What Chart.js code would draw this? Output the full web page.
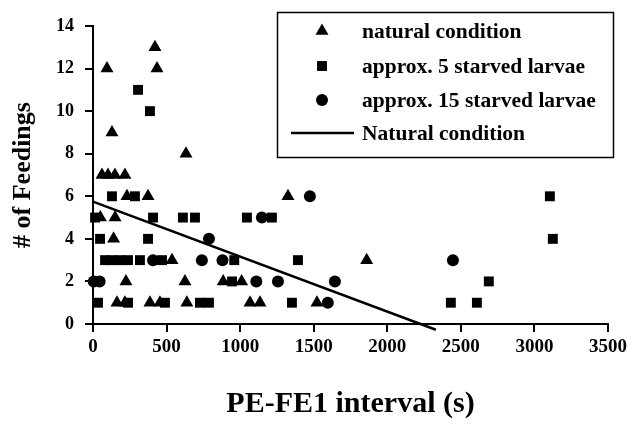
<!DOCTYPE html>
<html>
<head>
<meta charset="utf-8">
<script src="https://cdn.jsdelivr.net/npm/chart.js@4/dist/chart.umd.min.js"></script>
<style>
  html, body { margin: 0; padding: 0; background: #fff; }
  #wrap { width: 627px; height: 425px; }
</style>
</head>
<body>
<div id="wrap"><canvas id="chart" width="627" height="425"></canvas></div>
<script>
// data: [interval (s), # of feedings]
const naturalPts = [
  [95, 12], [421, 13], [435, 12], [129, 9], [632, 8],
  [61, 7], [102, 7], [149, 7], [217, 7],
  [231, 6], [374, 6], [1325, 6],
  [50, 5], [150, 5],
  [140, 4],
  [537, 3], [1860, 3],
  [224, 2], [625, 2], [885, 2], [1010, 2],
  [163, 1], [217, 1], [387, 1], [455, 1], [638, 1], [1067, 1], [1135, 1], [1522, 1]
];
const starved5Pts = [
  [306, 11], [387, 10],
  [129, 6], [285, 6], [3105, 6],
  [14, 5], [408, 5], [611, 5], [693, 5], [1046, 5], [1216, 5],
  [48, 4], [374, 4], [3125, 4],
  [82, 3], [129, 3], [183, 3], [238, 3], [319, 3], [469, 3], [960, 3], [1393, 3],
  [945, 2], [2690, 2],
  [34, 1], [238, 1], [489, 1], [727, 1], [788, 1], [1352, 1], [2432, 1], [2609, 1]
];
const starved15Pts = [
  [1474, 6], [1148, 5], [788, 4],
  [408, 3], [740, 3], [880, 3], [2446, 3],
  [5, 2], [45, 2], [1110, 2], [1257, 2], [1644, 2],
  [1596, 1]
];
// fitted line for natural condition, end points
const trendPts = [[0, 5.75], [2330, -0.27]];

const xTicks = [0, 500, 1000, 1500, 2000, 2500, 3000, 3500];
const yTicks = [0, 2, 4, 6, 8, 10, 12, 14];

const legendLabels = ['natural condition', 'approx. 5 starved larvae', 'approx. 15 starved larvae', 'Natural condition'];

const toXY = pts => pts.map(p => ({ x: p[0], y: p[1] }));
const serif = '"Liberation Serif", "Times New Roman", serif';

// legend drawn as a box in the upper right, like the original
const boxLegend = {
  id: 'boxLegend',
  afterDraw(chart) {
    const ctx = chart.ctx;
    const rows = [31, 66, 100, 133];
    ctx.save();
    ctx.strokeStyle = '#000';
    ctx.lineWidth = 1.5;
    ctx.strokeRect(277.5, 12.5, 336, 145);
    ctx.font = 'bold 21.5px ' + serif;
    ctx.textBaseline = 'middle';
    ctx.fillStyle = '#000';
    chart.data.datasets.forEach((ds, i) => {
      const y = rows[i];
      if (ds.type === 'line') {
        ctx.lineWidth = 2.5;
        ctx.beginPath();
        ctx.moveTo(291, y);
        ctx.lineTo(354, y);
        ctx.stroke();
      } else {
        Chart.helpers.drawPoint(ctx, {
          pointStyle: ds.pointStyle, radius: ds.pointRadius, rotation: 0, borderWidth: 0
        }, 322, y);
      }
      ctx.fillText(legendLabels[i], 362, y + 1);
    });
    ctx.restore();
  }
};

const ctx = document.getElementById('chart').getContext('2d');
const chart = new Chart(ctx, {
  type: 'scatter',
  data: {
    datasets: [
      {
        label: legendLabels[0], data: toXY(naturalPts),
        pointStyle: 'triangle', pointRadius: 7.5, backgroundColor: '#000', borderWidth: 0, clip: false
      },
      {
        label: legendLabels[1], data: toXY(starved5Pts),
        pointStyle: 'rect', pointRadius: 7, backgroundColor: '#000', borderWidth: 0, clip: false
      },
      {
        label: legendLabels[2], data: toXY(starved15Pts),
        pointStyle: 'circle', pointRadius: 6, backgroundColor: '#000', borderWidth: 0, clip: false
      },
      {
        type: 'line', label: legendLabels[3], data: toXY(trendPts),
        borderColor: '#000', borderWidth: 2.5, pointRadius: 0, showLine: true, fill: false, clip: false
      }
    ]
  },
  options: {
    responsive: false,
    animation: false,
    layout: { padding: { left: 0, top: 26, right: 19, bottom: 0 } },
    plugins: {
      legend: { display: false },
      tooltip: { enabled: false }
    },
    scales: {
      x: {
        type: 'linear',
        min: 0, max: 3500,
        afterFit: s => { s.height = 101; s.paddingLeft = 0; s.paddingRight = 0; },
        afterBuildTicks: s => { s.ticks = xTicks.map(v => ({ value: v })); },
        border: { display: true, color: '#000', width: 2 },
        grid: { drawOnChartArea: false, color: '#000', lineWidth: 2, tickLength: 8 },
        ticks: {
          color: '#000', padding: 4, callback: v => String(v),
          font: { family: serif, size: 19, weight: 'bold' }
        },
        title: {
          display: true, text: 'PE-FE1 interval (s)', color: '#000',
          padding: { top: 4, bottom: 3 },
          font: { family: serif, size: 30, weight: 'bold' }
        }
      },
      y: {
        type: 'linear',
        min: 0, max: 14,
        afterFit: s => { s.width = 93; },
        afterBuildTicks: s => { s.ticks = yTicks.map(v => ({ value: v })); },
        border: { display: true, color: '#000', width: 2 },
        grid: { drawOnChartArea: false, color: '#000', lineWidth: 2, tickLength: 8 },
        ticks: {
          color: '#000', padding: 11, callback: v => String(v),
          font: { family: serif, size: 18, weight: 'bold' }
        },
        title: {
          display: true, text: '# of Feedings', color: '#000',
          padding: { top: 8, bottom: 4 },
          font: { family: serif, size: 26, weight: 'bold' }
        }
      }
    }
  },
  plugins: [boxLegend]
});
</script>
</body>
</html>
